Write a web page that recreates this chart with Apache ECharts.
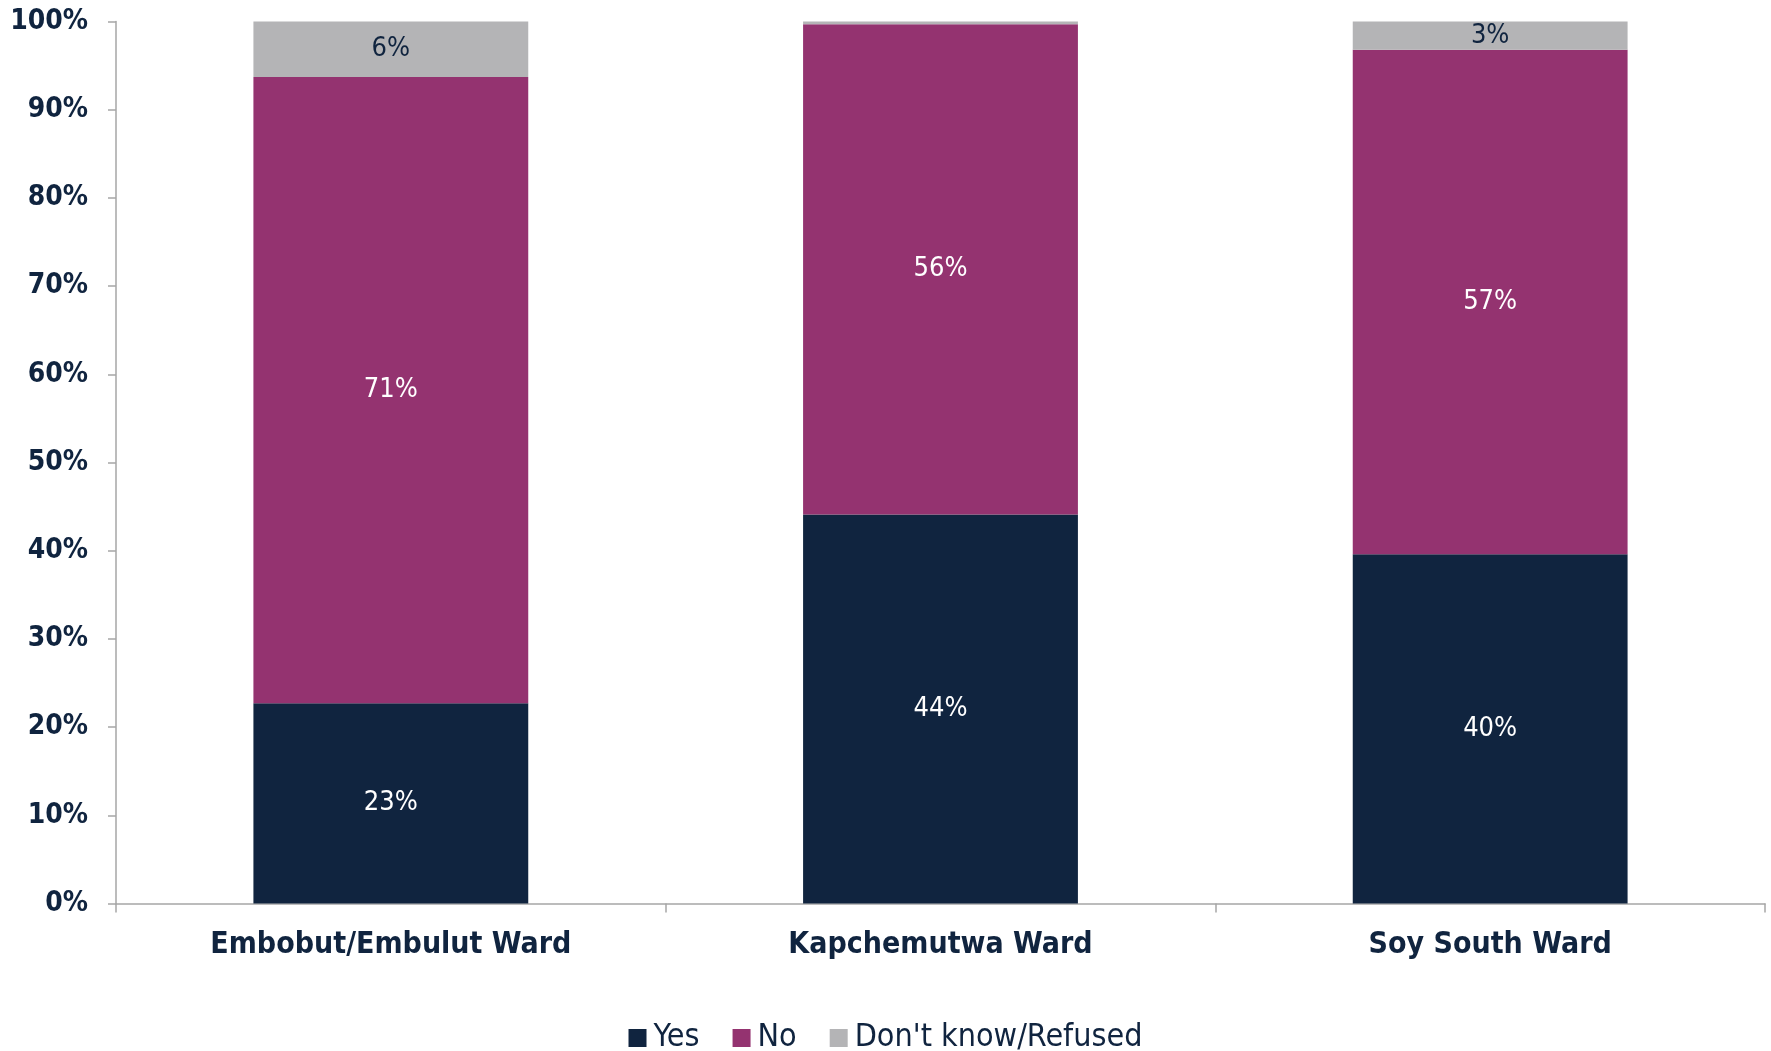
<!DOCTYPE html>
<html><head><meta charset="utf-8">
<script src="https://cdn.jsdelivr.net/npm/echarts@6/dist/echarts.min.js"></script>
<style>html,body{margin:0;padding:0;background:#fff}#c{width:1771px;height:1051px}</style>
</head><body><div id="c"></div>
<script>
const categories = ['Embobut/Embulut Ward', 'Kapchemutwa Ward', 'Soy South Ward'];
const yesValues = [22.7, 44.1, 39.6];
const noValues = [71.0, 55.6, 57.2];
const dkValues = [6.3, 0.3, 3.2];
const yTicks = [0, 10, 20, 30, 40, 50, 60, 70, 80, 90, 100];

const navy = '#10243F';
const font = '"DejaVu Sans Condensed", "DejaVu Sans", sans-serif';
const lbl = (color) => ({
  show: true, position: 'inside', color: color, fontFamily: font, fontSize: 27,
  formatter: p => p.value < 1 ? '' : Math.round(p.value) + '%'
});
const chart = echarts.init(document.getElementById('c'), null, {renderer: 'canvas'});
chart.setOption({
  animation: false,
  grid: {left: 116, right: 6, top: 21.5, bottom: 147.5},
  legend: {
    top: 1017, left: 'center', itemWidth: 18, itemHeight: 18, itemGap: 33,
    icon: 'rect',
    textStyle: {fontFamily: font, fontSize: 32, color: navy, padding: [0, 0, 0, 2]},
    data: ['Yes', 'No', "Don't know/Refused"]
  },
  xAxis: {
    type: 'category', data: categories,
    axisLine: {lineStyle: {color: '#A6A6A6', width: 1.5}},
    axisTick: {show: true, length: 9, lineStyle: {color: '#A6A6A6', width: 1.5}},
    axisLabel: {fontFamily: font, fontWeight: 'bold', fontSize: 30, color: navy, margin: 27}
  },
  yAxis: {
    type: 'value', min: 0, max: 100, interval: 10,
    splitLine: {show: false},
    axisLine: {show: true, lineStyle: {color: '#A6A6A6', width: 1.5}},
    axisTick: {show: true, length: 8, lineStyle: {color: '#A6A6A6', width: 1.5}},
    axisLabel: {fontFamily: font, fontWeight: 'bold', fontSize: 28, color: navy, margin: 28,
      formatter: v => yTicks.includes(v) ? v + '%' : ''}
  },
  series: [
    {name: 'Yes', type: 'bar', stack: 's', data: yesValues, barWidth: '50%',
     itemStyle: {color: navy}, label: lbl('#ffffff')},
    {name: 'No', type: 'bar', stack: 's', data: noValues,
     itemStyle: {color: '#943370'}, label: lbl('#ffffff')},
    {name: "Don't know/Refused", type: 'bar', stack: 's', data: dkValues,
     itemStyle: {color: '#B4B4B6'}, label: lbl(navy)}
  ]
});
</script></body></html>
